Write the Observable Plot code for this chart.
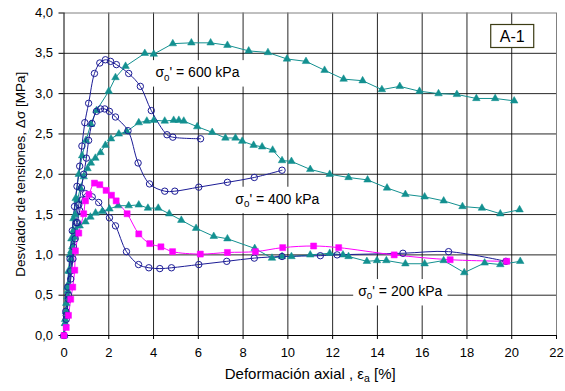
<!DOCTYPE html>
<html><head><meta charset="utf-8">
<script src="https://cdn.jsdelivr.net/npm/d3@7"></script>
<script src="https://cdn.jsdelivr.net/npm/@observablehq/plot@0.6"></script>
<style>
html,body{margin:0;padding:0;background:#fff;}
svg text{font-family:"Liberation Sans", Arial, sans-serif;}
</style>
</head><body><div id="chart"></div>
<script>
// ---- data: [axial strain %, deviator stress MPa] ----
const blue600 = [[0,0],[0.08,0.3],[0.17,0.6],[0.27,0.95],[0.37,1.3],[0.47,1.6],[0.58,1.85],[0.7,2.1],[0.8,2.35],[0.93,2.64],[1.1,2.88],[1.36,3.25],[1.6,3.38],[1.85,3.42],[2.08,3.40],[2.34,3.36],[2.89,3.25],[3.41,3.09],[3.9,2.79],[4.6,2.49],[4.86,2.46],[6.1,2.44]];
const blue400 = [[0,0],[0.1,0.25],[0.2,0.5],[0.3,0.8],[0.42,1.1],[0.55,1.4],[0.66,1.62],[0.78,1.83],[0.88,2.0],[1.0,2.2],[1.1,2.42],[1.25,2.63],[1.45,2.78],[1.63,2.81],[1.82,2.81],[2.03,2.78],[2.3,2.71],[2.86,2.54],[3.31,2.14],[3.82,1.88],[4.5,1.79],[4.95,1.79],[6.02,1.84],[7.3,1.90],[8.5,1.96],[9.74,2.05]];
const blue200 = [[0,0],[0.1,0.2],[0.2,0.45],[0.3,0.7],[0.4,0.95],[0.5,1.2],[0.6,1.4],[0.7,1.55],[0.8,1.68],[0.96,1.76],[1.26,1.72],[1.55,1.65],[2.03,1.46],[2.3,1.36],[2.79,1.04],[3.33,0.88],[3.79,0.84],[4.28,0.83],[4.8,0.84],[6.02,0.88],[7.27,0.92],[8.5,0.96],[9.74,0.98],[11.45,0.99],[12.2,1.0],[15.14,1.02],[17.18,1.04],[19.74,0.92]];
const magenta200 = [[0,0],[0.1,0.1],[0.2,0.25],[0.3,0.45],[0.39,0.6],[0.48,0.81],[0.51,1.05],[0.66,1.27],[0.88,1.51],[0.96,1.67],[1.11,1.75],[1.36,1.89],[1.6,1.87],[1.88,1.80],[2.12,1.74],[2.33,1.67],[2.82,1.51],[3.34,1.26],[3.83,1.14],[4.33,1.10],[4.85,1.04],[6.09,1.01],[7.3,1.03],[8.55,1.04],[9.77,1.09],[11.15,1.11],[12.27,1.09],[14.75,1.0],[17.25,0.94],[19.78,0.92]];
const teal600 = [[0,0],[0.05,0.2],[0.1,0.4],[0.15,0.6],[0.2,0.8],[0.26,1.0],[0.33,1.2],[0.42,1.45],[0.52,1.7],[0.66,2.0],[0.81,2.23],[0.98,2.42],[1.2,2.62],[1.45,2.79],[2.0,3.03],[2.3,3.2],[2.75,3.34],[3.61,3.5],[4.01,3.49],[4.86,3.62],[5.69,3.63],[6.55,3.63],[7.3,3.6],[8.25,3.53],[9.11,3.51],[9.96,3.43],[10.81,3.40],[11.64,3.29],[12.49,3.18],[13.34,3.16],[14.2,3.05],[15.0,3.09],[15.88,3.03],[16.73,3.0],[17.55,2.99],[18.42,2.94],[19.26,2.94],[20.11,2.91]];
const teal400 = [[0,0],[0.05,0.15],[0.1,0.3],[0.17,0.55],[0.25,0.8],[0.33,1.05],[0.42,1.3],[0.5,1.5],[0.6,1.68],[0.73,1.83],[0.88,1.97],[1.05,2.07],[1.2,2.14],[1.4,2.2],[1.63,2.27],[1.85,2.36],[2.1,2.44],[2.45,2.5],[2.8,2.53],[3.34,2.64],[3.7,2.66],[4.01,2.67],[4.5,2.66],[4.9,2.67],[5.13,2.67],[5.35,2.66],[5.95,2.59],[6.62,2.52],[7.21,2.45],[7.66,2.45],[7.96,2.41],[8.47,2.36],[8.85,2.34],[9.32,2.3],[9.74,2.17],[10.16,2.16],[11.0,2.06],[11.87,2.0],[12.71,1.96],[13.56,1.93],[14.43,1.83],[15.25,1.75],[16.11,1.72],[16.96,1.67],[17.8,1.6],[18.67,1.58],[19.49,1.51],[20.35,1.56]];
const teal200 = [[0,0],[0.05,0.15],[0.1,0.3],[0.15,0.48],[0.2,0.64],[0.25,0.8],[0.3,0.95],[0.37,1.1],[0.45,1.22],[0.55,1.3],[0.7,1.36],[0.96,1.41],[1.18,1.47],[1.41,1.52],[1.71,1.54],[2.03,1.57],[2.42,1.61],[2.89,1.61],[3.34,1.62],[3.75,1.58],[4.21,1.58],[4.7,1.51],[5.24,1.43],[5.9,1.33],[6.69,1.23],[7.3,1.2],[8.52,1.08],[9.29,0.96],[9.74,0.98],[10.16,0.98],[11.0,1.0],[11.87,1.02],[12.46,1.0],[12.71,0.98],[13.53,0.92],[13.98,0.93],[14.4,0.93],[15.25,0.89],[16.11,0.89],[16.96,0.93],[17.88,0.78],[18.79,0.9],[19.49,0.88],[20.38,0.92]];

const xTicks = [0,2,4,6,8,10,12,14,16,18,20,22];
const yTicks = [0,0.5,1,1.5,2,2.5,3,3.5,4];
const xLabel = "Deformación axial , ε_a [%]";
const yLabel = "Desviador de tensiones, Δσ [MPa]";
const annotations = [
  {x: 5.96, y: 3.26, label: "σ_0' = 600 kPa"},
  {x: 9.53, y: 1.69, label: "σ_0' = 400 kPa"},
  {x: 15.02, y: 0.545, label: "σ_0' = 200 kPa"}
];
const tag = [{x: 20.02, y: 3.71, label: "A-1"}];

const BLUE = "#1c1c96", TEAL = "#139090", MAGENTA = "#ff00ff";

const series = [
  {name: "b600", pts: blue600, kind: "blue"},
  {name: "b400", pts: blue400, kind: "blue"},
  {name: "b200", pts: blue200, kind: "blue"},
  {name: "t600", pts: teal600, kind: "teal"},
  {name: "t400", pts: teal400, kind: "teal"},
  {name: "t200", pts: teal200, kind: "teal"},
  {name: "m200", pts: magenta200, kind: "magenta"}
];
const rows = series.flatMap(s => s.pts.map(([x, y]) => ({curve: s.name, kind: s.kind, x, y})));
const blueRows = rows.filter(d => d.kind === "blue");
const tealRows = rows.filter(d => d.kind === "teal");
const magRows = rows.filter(d => d.kind === "magenta");

const fmt = d => d.toFixed(1).replace(".", ",");

const svg = Plot.plot({
  width: 565, height: 391,
  marginLeft: 63.5, marginRight: 9, marginTop: 12.5, marginBottom: 56,
  style: {fontFamily: "'Liberation Sans', Arial, sans-serif", fontSize: "13px", background: "white", color: "black", overflow: "visible"},
  x: {domain: [0, 22]},
  y: {domain: [0, 4]},
  marks: [
    Plot.gridX(xTicks.filter(d => d > 0 && d < 22), {stroke: "#000", strokeOpacity: 0.85}),
    Plot.gridY(yTicks.filter(d => d > 0 && d < 4), {stroke: "#000", strokeOpacity: 0.85}),
    Plot.ruleX([22], {stroke: "#808080"}),
    Plot.ruleY([4], {stroke: "#808080"}),
    Plot.axisY({ticks: yTicks, tickFormat: fmt, tickSize: 5, tickPadding: 6, label: null, fontSize: 13}),
    Plot.axisX({ticks: xTicks, tickSize: 4, tickPadding: 8, label: null, fontSize: 13}),
    Plot.ruleX([0], {stroke: "#000"}),
    Plot.ruleY([0], {stroke: "#000"}),
    Plot.line(tealRows, {x: "x", y: "y", z: "curve", stroke: TEAL, strokeWidth: 1}),
    Plot.line(blueRows, {x: "x", y: "y", z: "curve", stroke: BLUE, strokeWidth: 1, curve: "catmull-rom"}),
    Plot.line(magRows, {x: "x", y: "y", z: "curve", stroke: MAGENTA, strokeWidth: 1, curve: "catmull-rom"}),
    Plot.dot(tealRows, {x: "x", y: "y", symbol: "triangle", r: 2.8, fill: TEAL, stroke: TEAL, strokeWidth: 0.5}),
    Plot.dot(blueRows, {x: "x", y: "y", symbol: "circle", r: 3.2, fill: "none", stroke: BLUE, strokeWidth: 1}),
    Plot.dot(magRows, {x: "x", y: "y", symbol: "square", r: 3.4, fill: MAGENTA, stroke: MAGENTA, strokeWidth: 0.5}),
    Plot.text([yLabel], {frameAnchor: "left", textAnchor: "middle", rotate: -90, dx: -43.5, fontSize: 13.5, fill: "#000"}),
    Plot.text([xLabel], {frameAnchor: "bottom", dy: 43, fontSize: 15, fill: "#000"}),
    Plot.text(annotations, {x: "x", y: "y", text: "label", fontSize: 14, fill: "#000", ariaDescription: "boxed"}),
    Plot.text(tag, {x: "x", y: "y", text: "label", fontSize: 16, fill: "#000", ariaDescription: "tagbox"})
  ]
});
document.getElementById("chart").appendChild(svg);

const NS = "http://www.w3.org/2000/svg";
// subscripts marked with "_"
d3.select(svg).selectAll("text").each(function() {
  if (this.querySelector("tspan")) return;
  const s = this.textContent;
  const m = s.match(/^(.*?)_(.)(.*)$/);
  if (!m) return;
  this.textContent = "";
  const a = document.createElementNS(NS, "tspan"); a.textContent = m[1];
  const b = document.createElementNS(NS, "tspan"); b.textContent = m[2];
  b.setAttribute("font-size", "0.7em"); b.setAttribute("dy", "0.35em");
  const c = document.createElementNS(NS, "tspan"); c.textContent = m[3];
  c.setAttribute("dy", "-0.245em");
  this.appendChild(a); this.appendChild(b); this.appendChild(c);
});
// white boxes behind labels
function boxes(desc, padX, padY, stroke) {
  d3.select(svg).selectAll(`g[aria-description="${desc}"] text`).each(function() {
    const bb = this.getBBox();
    const r = document.createElementNS(NS, "rect");
    r.setAttribute("x", bb.x - padX);
    r.setAttribute("y", bb.y - padY);
    r.setAttribute("width", bb.width + 2 * padX);
    r.setAttribute("height", bb.height + 2 * padY);
    r.setAttribute("fill", "white");
    if (stroke) { r.setAttribute("stroke", stroke); r.setAttribute("stroke-width", 1.2); }
    else r.setAttribute("stroke", "none");
    const t = this.getAttribute("transform");
    if (t) r.setAttribute("transform", t);
    this.parentNode.insertBefore(r, this);
  });
}
boxes("boxed", 5, 4, null);
boxes("tagbox", 9, 3, "#3c3c14");
</script>
</body></html>
